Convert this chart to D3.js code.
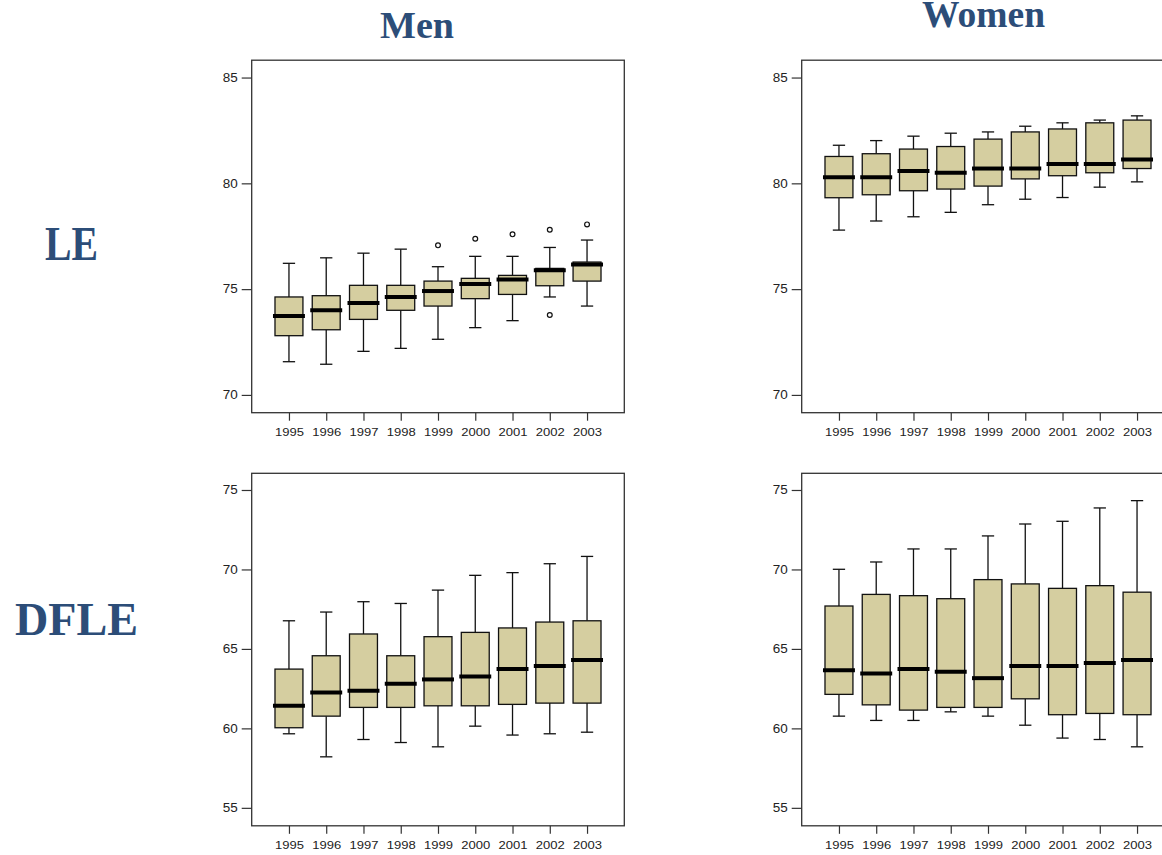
<!DOCTYPE html>
<html>
<head>
  <meta charset="utf-8">
  <title>LE and DFLE boxplots, men and women</title>
  <style>
  body { margin: 0; background: #fff; }
  .frame { fill: none; stroke: #333; stroke-width: 1.3px; }
  .box { fill: #d5cea0; stroke: #111; stroke-width: 1.3px; }
  .whisker { stroke: #111; stroke-width: 1.3px; }
  .median { stroke: #000; stroke-width: 4px; }
  .outlier { fill: #fff; stroke: #111; stroke-width: 1.2px; }
  .axis text { font-family: Arial, "Liberation Sans", sans-serif; font-size: 11.5px; fill: #222; }
  .yaxis text { font-size: 12px; }
  .axis line { stroke: #333; stroke-width: 1.2px; }
  .axis path { display: none; }
  .label { font-family: "Liberation Serif", "DejaVu Serif", serif; font-weight: bold; fill: #2c4d78; }
  </style>
</head>
<body>
  <svg width="1162" height="855"></svg>
  <script src="https://d3js.org/d3.v7.min.js"></script>
  <script>
  // data: [low whisker, q1, median, q3, high whisker]
  var years = [1995, 1996, 1997, 1998, 1999, 2000, 2001, 2002, 2003];

  var menLE = [
    [71.57, 72.80, 73.73, 74.63, 76.22],
    [71.45, 73.08, 74.00, 74.69, 76.48],
    [72.06, 73.57, 74.34, 75.18, 76.70],
    [72.20, 74.00, 74.63, 75.18, 76.89],
    [72.63, 74.20, 74.91, 75.38, 76.06],
    [73.18, 74.55, 75.24, 75.51, 76.55],
    [73.51, 74.75, 75.46, 75.65, 76.55],
    [74.63, 75.16, 75.89, 75.98, 76.97],
    [74.20, 75.38, 76.17, 76.28, 77.32]
  ];
  var menLEOutliers = [[1999, 77.07], [2000, 77.38], [2001, 77.59], [2002, 77.81], [2002, 73.78], [2003, 78.06]];

  var womenLE = [
    [77.79, 79.32, 80.29, 81.27, 81.80],
    [78.22, 79.46, 80.29, 81.40, 82.02],
    [78.42, 79.65, 80.58, 81.62, 82.23],
    [78.63, 79.73, 80.50, 81.74, 82.37],
    [78.99, 79.87, 80.70, 82.09, 82.43],
    [79.25, 80.21, 80.70, 82.43, 82.70],
    [79.33, 80.36, 80.91, 82.57, 82.86],
    [79.82, 80.50, 80.91, 82.86, 82.99],
    [80.07, 80.70, 81.13, 82.99, 83.19]
  ];

  var menDFLE = [
    [59.66, 60.04, 61.42, 63.73, 66.77],
    [58.21, 60.77, 62.26, 64.57, 67.32],
    [59.30, 61.32, 62.37, 65.94, 67.97],
    [59.11, 61.32, 62.81, 64.57, 67.86],
    [58.84, 61.42, 63.08, 65.77, 68.70],
    [60.14, 61.42, 63.27, 66.04, 69.63],
    [59.58, 61.51, 63.73, 66.32, 69.80],
    [59.66, 61.59, 63.92, 66.69, 70.36],
    [59.76, 61.59, 64.30, 66.77, 70.82]
  ];

  var womenDFLE = [
    [60.77, 62.14, 63.65, 67.70, 70.01],
    [60.50, 61.48, 63.46, 68.43, 70.47],
    [60.50, 61.15, 63.73, 68.35, 71.29],
    [61.04, 61.32, 63.56, 68.16, 71.29],
    [60.77, 61.32, 63.16, 69.36, 72.11],
    [60.20, 61.86, 63.92, 69.09, 72.86],
    [59.39, 60.86, 63.92, 68.81, 73.03],
    [59.30, 60.94, 64.11, 68.98, 73.87],
    [58.84, 60.86, 64.30, 68.57, 74.33]
  ];

  var leTicks = [70, 75, 80, 85];
  var dfleTicks = [55, 60, 65, 70, 75];

  var svg = d3.select("svg");

  function panel(left, top, stats, outliers, yDomain, yTicks) {
    var w = 372.6, h = 352.5;
    var g = svg.append("g").attr("transform", "translate(" + left + "," + top + ")");

    var x = d3.scalePoint().domain(years).range([0, w]).padding(1);
    var y = d3.scaleLinear().domain(yDomain).range([h, 0]);
    var bw = x.step() * 0.75, cap = x.step() * 0.33;

    g.append("g").attr("class", "axis yaxis")
      .call(d3.axisLeft(y).tickValues(yTicks).tickSize(10).tickPadding(4))
      .selectAll("text")
      .attr("textLength", 15)
      .attr("lengthAdjust", "spacingAndGlyphs");

    g.append("g").attr("class", "axis")
      .attr("transform", "translate(0," + h + ")")
      .call(d3.axisBottom(x).tickSize(8).tickPadding(7))
      .selectAll("text")
      .attr("textLength", 29)
      .attr("lengthAdjust", "spacingAndGlyphs");

    var b = g.selectAll(".bx")
      .data(stats)
      .enter()
      .append("g")
      .attr("class", "bx")
      .attr("transform", function(d, i) { return "translate(" + x(years[i]) + ",0)"; });

    // whiskers
    b.append("line").attr("class", "whisker")
      .attr("y1", function(d) { return y(d[0]); }).attr("y2", function(d) { return y(d[1]); });
    b.append("line").attr("class", "whisker")
      .attr("y1", function(d) { return y(d[3]); }).attr("y2", function(d) { return y(d[4]); });
    b.append("line").attr("class", "whisker")
      .attr("x1", -cap / 2).attr("x2", cap / 2)
      .attr("y1", function(d) { return y(d[0]); }).attr("y2", function(d) { return y(d[0]); });
    b.append("line").attr("class", "whisker")
      .attr("x1", -cap / 2).attr("x2", cap / 2)
      .attr("y1", function(d) { return y(d[4]); }).attr("y2", function(d) { return y(d[4]); });

    b.append("rect").attr("class", "box")
      .attr("x", -bw / 2).attr("width", bw)
      .attr("y", function(d) { return y(d[3]); })
      .attr("height", function(d) { return y(d[1]) - y(d[3]); });

    b.append("line").attr("class", "median")
      .attr("x1", -bw / 2 - 2).attr("x2", bw / 2 + 2)
      .attr("y1", function(d) { return y(d[2]); }).attr("y2", function(d) { return y(d[2]); });

    g.selectAll(".outlier")
      .data(outliers)
      .enter()
      .append("circle")
      .attr("class", "outlier")
      .attr("r", 2.4)
      .attr("cx", function(d) { return x(d[0]); })
      .attr("cy", function(d) { return y(d[1]); });

    g.append("rect").attr("class", "frame").attr("width", w).attr("height", h);
  }

  panel(251.7, 60.2, menLE, menLEOutliers, [69.16, 85.82], leTicks);
  panel(801.7, 60.2, womenLE, [], [69.16, 85.82], leTicks);
  panel(251.7, 473.3, menDFLE, [], [53.87, 76.05], dfleTicks);
  panel(801.7, 473.3, womenDFLE, [], [53.87, 76.05], dfleTicks);

  // titles
  function label(txt, x, y, size, len) {
    svg.append("text").attr("class", "label")
      .attr("x", x).attr("y", y)
      .attr("font-size", size)
      .attr("textLength", len)
      .attr("lengthAdjust", "spacingAndGlyphs")
      .text(txt);
  }
  label("Men", 380, 38, 38, 74);
  label("Women", 922, 27, 38, 123);
  label("LE", 45, 260, 48, 53);
  label("DFLE", 15, 635, 46, 123);
  </script>
</body>
</html>
